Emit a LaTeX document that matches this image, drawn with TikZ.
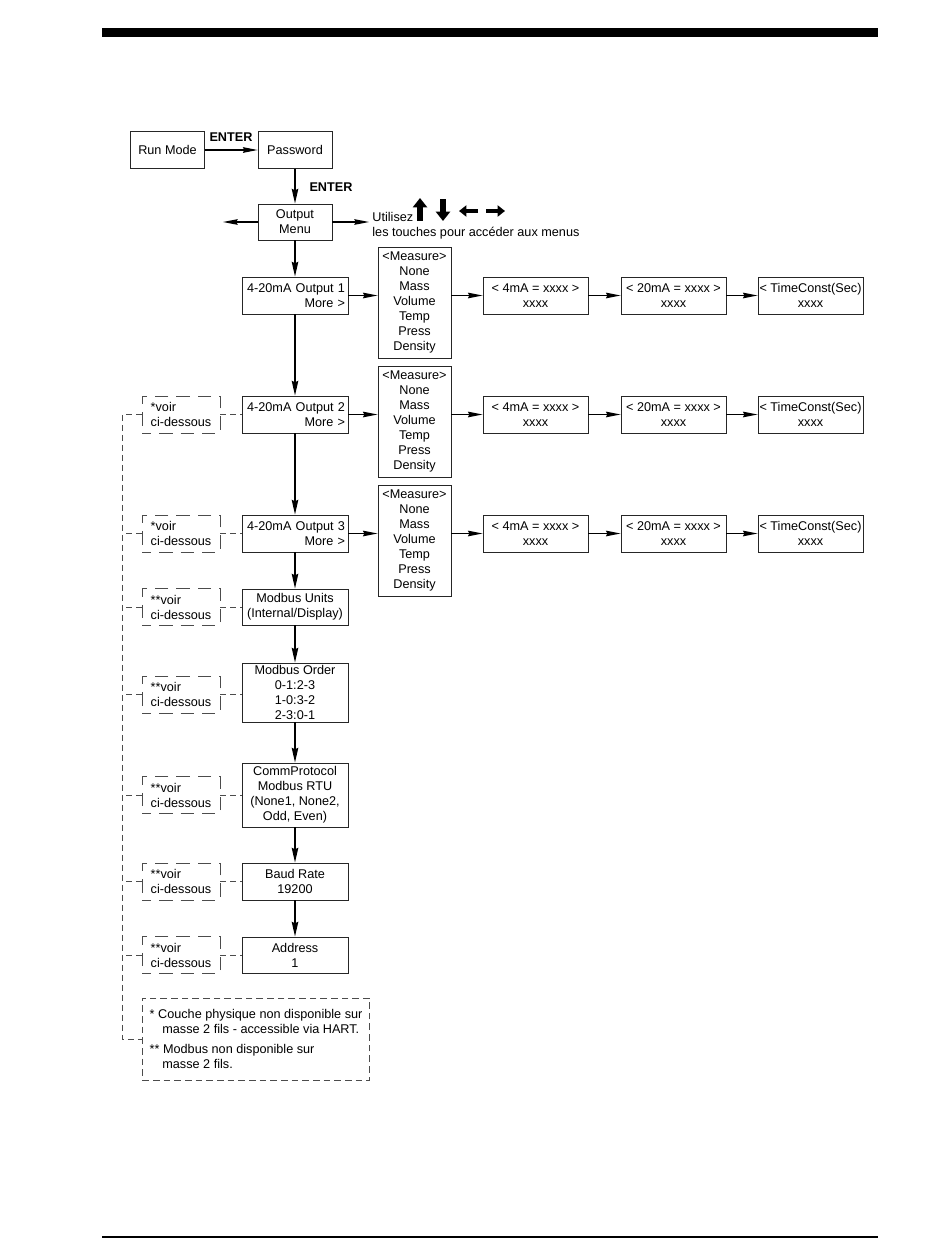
\documentclass[tikz,border=0pt]{standalone}
\usepackage{fontspec}
\setmainfont{Liberation Sans}
\usetikzlibrary{arrows.meta, positioning, calc}
\tikzset{
  box/.style={
    draw=black!85, line width=0.6pt, align=center, inner sep=0pt,
    font=\fontsize{9.5}{11.2}\selectfont
  },
  topbox/.style={box, minimum width=55.5pt, minimum height=27.5pt},
  mainbox/.style={box, minimum width=79.5pt, minimum height=#1*0.75pt},
  outbox/.style={mainbox=37, align=right, text width=75pt},
  measbox/.style={box, minimum width=54.75pt, minimum height=83.25pt},
  valbox/.style={box, minimum width=78.75pt, minimum height=27.75pt},
  voirbox/.style={
    box, draw=black!70, dash pattern=on 10pt off 6pt, dash phase=3pt,
    minimum width=58.5pt, minimum height=27.75pt, align=left
  },
  notebox/.style={
    box, draw=black!70, dash pattern=on 5pt off 3pt, align=left,
    minimum width=168.75pt, minimum height=61.5pt, inner xsep=5.5pt
  },
  label/.style={font=\fontsize{9.5}{11.2}\selectfont\bfseries, inner sep=0pt},
  harrow/.style={-{Stealth[length=11pt, width=4.2pt, inset=1pt]}, line width=0.8pt},
  varrow/.style={-{Stealth[length=11pt, width=4.8pt, inset=1pt]}, line width=1.3pt},
  keyarrow/.style={-{Triangle[length=#1*0.7pt, width=#1*1.05pt]}, line width=#1*0.45pt},
  link/.style={draw=black!70, line width=0.6pt, dash pattern=on 4.5pt off 3pt}
}
\begin{document}
\begin{tikzpicture}[x=0.75pt, y=-0.75pt]
  \useasboundingbox (0,0) rectangle (950,1260);
  % page rules
  \fill (102,28) rectangle (878,37);
  \draw[line width=1pt] (102,1237) -- (878,1237);

  % entry
  \node[topbox] (run) at (167.5,150) {Run Mode};
  \node[topbox] (pwd) at (295,150) {Password};
  \node[topbox, minimum height=27pt] (menu) at (295,222) {Output\\Menu};
  \node[label] (enter1) at (231,137) {ENTER};
  \node[label] (enter2) at (331,187) {ENTER};
  \coordinate (menuL) at (223,222);
  \coordinate (menuR) at (369,222);
  \node[box, draw=none, anchor=north west, align=left] (hint) at (372,211.5)
    {Utilisez\\les touches pour accéder aux menus};

  % key symbols
  \draw[keyarrow=10] (420,221) -- (420,198);
  \draw[keyarrow=10] (443,199) -- (443,221);
  \draw[keyarrow=8] (478,211) -- (459,211);
  \draw[keyarrow=8] (486,211) -- (505,211);

  % outputs
  \node[outbox] (out1) at (295,295.5) {4-20mA Output 1\\More >};
  \node[outbox] (out2) at (295,414.5) {4-20mA Output 2\\More >};
  \node[outbox] (out3) at (295,533.5) {4-20mA Output 3\\More >};

  \node[measbox] (meas1) at (414.5,302.5)
    {<Measure>\\None\\Mass\\Volume\\Temp\\Press\\Density};
  \node[measbox] (meas2) at (414.5,421.5)
    {<Measure>\\None\\Mass\\Volume\\Temp\\Press\\Density};
  \node[measbox] (meas3) at (414.5,540.5)
    {<Measure>\\None\\Mass\\Volume\\Temp\\Press\\Density};

  \node[valbox] (lo1) at (535.5,295.5) {< 4mA = xxxx >\\xxxx};
  \node[valbox] (hi1) at (673.5,295.5) {< 20mA = xxxx >\\xxxx};
  \node[valbox] (tc1) at (810.5,295.5) {< TimeConst(Sec)\\xxxx};
  \node[valbox] (lo2) at (535.5,414.5) {< 4mA = xxxx >\\xxxx};
  \node[valbox] (hi2) at (673.5,414.5) {< 20mA = xxxx >\\xxxx};
  \node[valbox] (tc2) at (810.5,414.5) {< TimeConst(Sec)\\xxxx};
  \node[valbox] (lo3) at (535.5,533.5) {< 4mA = xxxx >\\xxxx};
  \node[valbox] (hi3) at (673.5,533.5) {< 20mA = xxxx >\\xxxx};
  \node[valbox] (tc3) at (810.5,533.5) {< TimeConst(Sec)\\xxxx};

  % modbus settings
  \node[mainbox=36] (units) at (295,607) {Modbus Units\\(Internal/Display)};
  \node[mainbox=59] (order) at (295,692.5) {Modbus Order\\0-1:2-3\\1-0:3-2\\2-3:0-1};
  \node[mainbox=64] (comm) at (295,795)
    {CommProtocol\\Modbus RTU\\(None1, None2,\\Odd, Even)};
  \node[mainbox=37] (baud) at (295,881.5) {Baud Rate\\19200};
  \node[mainbox=36] (addr) at (295,955) {Address\\1};

  % notes
  \node[voirbox] (voir2) at (181,414.5) {*voir\\ci-dessous};
  \node[voirbox] (voir3) at (181,533.5) {*voir\\ci-dessous};
  \node[voirbox] (voirU) at (181,607) {**voir\\ci-dessous};
  \node[voirbox] (voirO) at (181,694.5) {**voir\\ci-dessous};
  \node[voirbox] (voirC) at (181,795) {**voir\\ci-dessous};
  \node[voirbox] (voirB) at (181,881.5) {**voir\\ci-dessous};
  \node[voirbox] (voirA) at (181,955) {**voir\\ci-dessous};
  \node[notebox, anchor=west] (foot) at (142,1039) {%
    * Couche physique non disponible sur\\
    \hspace*{9.5pt}masse 2 fils - accessible via HART.\\[4pt]
    ** Modbus non disponible sur\\
    \hspace*{9.5pt}masse 2 fils.};
  \coordinate (trunk) at (122,414.5);

  % connectors
  \draw[harrow] (run) -- (pwd);
  \draw[varrow] (pwd) -- (menu);
  \draw[harrow] (menu) -- (menuL);
  \draw[harrow] (menu) -- (menuR);
  \draw[varrow] (menu) -- (out1);
  \draw[varrow] (out1) -- (out2);
  \draw[varrow] (out2) -- (out3);
  \draw[varrow] (out3) -- (units);
  \draw[varrow] (units) -- (order);
  \draw[varrow] (order) -- (comm);
  \draw[varrow] (comm) -- (baud);
  \draw[varrow] (baud) -- (addr);

  \draw[harrow] (out1.east) -- (out1.east -| meas1.west);
  \draw[harrow] (out1.east -| meas1.east) -- (lo1);
  \draw[harrow] (lo1) -- (hi1);
  \draw[harrow] (hi1) -- (tc1);
  \draw[harrow] (out2.east) -- (out2.east -| meas2.west);
  \draw[harrow] (out2.east -| meas2.east) -- (lo2);
  \draw[harrow] (lo2) -- (hi2);
  \draw[harrow] (hi2) -- (tc2);
  \draw[harrow] (out3.east) -- (out3.east -| meas3.west);
  \draw[harrow] (out3.east -| meas3.east) -- (lo3);
  \draw[harrow] (lo3) -- (hi3);
  \draw[harrow] (hi3) -- (tc3);

  \draw[link] (voir2.west) -- (trunk) |- (foot.west);
  \draw[link] (voir3.west) -- (voir3.west -| trunk);
  \draw[link] (voirU.west) -- (voirU.west -| trunk);
  \draw[link] (voirO.west) -- (voirO.west -| trunk);
  \draw[link] (voirC.west) -- (voirC.west -| trunk);
  \draw[link] (voirB.west) -- (voirB.west -| trunk);
  \draw[link] (voirA.west) -- (voirA.west -| trunk);
  \draw[link] (voir2) -- (out2);
  \draw[link] (voir3) -- (out3);
  \draw[link] (voirU) -- (units);
  \draw[link] (voirO) -- (voirO -| order.west);
  \draw[link] (voirC) -- (comm);
  \draw[link] (voirB) -- (baud);
  \draw[link] (voirA) -- (addr);
\end{tikzpicture}
\end{document}
